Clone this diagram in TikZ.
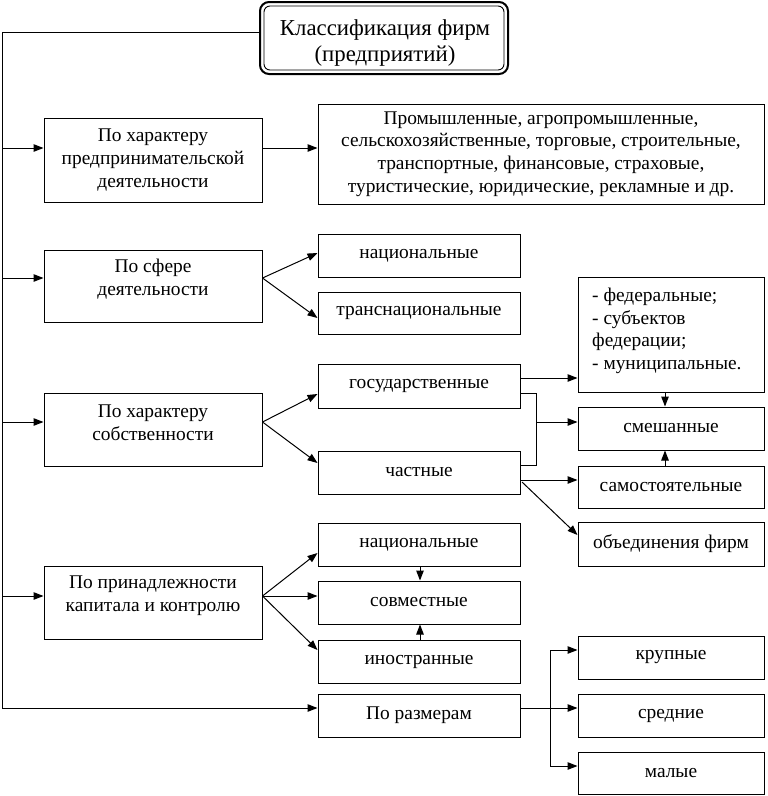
\documentclass[tikz,border=0pt]{standalone}
\usepackage{fontspec}
\setmainfont{Liberation Serif}
\usetikzlibrary{arrows.meta,calc}
\begin{document}
\begin{tikzpicture}[x=1pt,y=-1pt,
  box/.style={draw,line width=1pt,inner sep=0pt,align=center,font=\fontsize{19.4}{22.7}\selectfont},
  txt/.style={inner sep=0pt,align=center,font=\fontsize{19.4}{22.7}\selectfont},
  arr/.style={line width=1pt,-{Triangle[length=10pt,width=7.5pt]}},
  ln/.style={line width=1pt}]
\useasboundingbox (0,0) rectangle (768,796);
% title
\node[draw,line width=2pt,rounded corners=9pt,minimum width=248pt,minimum height=72pt,inner sep=0pt] (title) at (384,38) {};
\draw[line width=0.9pt,rounded corners=6pt] (264,6) rectangle (504,70);
\node[txt,font=\fontsize{22.8}{25.5}\selectfont] (titlet) at (385,43) {Классификация фирм\\(предприятий)};
% left column
\node[box,minimum width=218pt,minimum height=84pt] (a1) at (153,160) {По характеру\\предпринимательской\\деятельности};
\node[box,minimum width=218pt,minimum height=72pt] (a2) at (153,286) {};
\node[txt] (a2t) at (153,279) {По сфере\\деятельности};
\node[box,minimum width=218pt,minimum height=73pt] (a3) at (153,429.5) {};
\node[txt] (a3t) at (153,423) {По характеру\\собственности};
\node[box,minimum width=218pt,minimum height=73pt] (a4) at (153,602.5) {};
\node[txt] (a4t) at (153,596) {По принадлежности\\капитала и контролю};
% middle column
\node[box,minimum width=446pt,minimum height=100pt] (b1) at (541,154) {Промышленные, агропромышленные,\\сельскохозяйственные, торговые, строительные,\\транспортные, финансовые, страховые,\\туристические, юридические, рекламные и др.};
\node[box,minimum width=202pt,minimum height=43pt] (b2a) at (419,255.5) {национальные};
\node[box,minimum width=202pt,minimum height=42pt] (b2b) at (419,313) {транснациональные};
\node[box,minimum width=202pt,minimum height=44pt] (b3a) at (419,386) {государственные};
\node[box,minimum width=202pt,minimum height=43pt] (b3b) at (419,472.5) {частные};
\node[box,minimum width=202pt,minimum height=43pt] (b4a) at (419,544.5) {национальные};
\node[box,minimum width=202pt,minimum height=43pt] (b4b) at (419,602.5) {совместные};
\node[box,minimum width=202pt,minimum height=43pt] (b4c) at (419,661.5) {иностранные};
\node[box,minimum width=202pt,minimum height=43pt] (a5) at (419,715.5) {По размерам};
% right column
\node[box,minimum width=186pt,minimum height=115pt] (c1) at (671,334.5) {};
\node[txt,align=left,anchor=west] (c1t) at (592,331) {- федеральные;\\- субъектов\\федерации;\\- муниципальные.};
\node[box,minimum width=186pt,minimum height=43pt] (c2) at (671,428.5) {смешанные};
\node[box,minimum width=186pt,minimum height=42pt] (c3) at (671,487) {самостоятельные};
\node[box,minimum width=186pt,minimum height=44pt] (c4) at (671,544) {объединения фирм};
\node[box,minimum width=186pt,minimum height=43pt] (d1) at (671,657.5) {крупные};
\node[box,minimum width=186pt,minimum height=43pt] (d2) at (671,715.5) {средние};
\node[box,minimum width=186pt,minimum height=42pt] (d3) at (671,773) {малые};
% trunk
\coordinate (t0) at (2,32);
\coordinate (t1) at (2,148);
\coordinate (t2) at (2,278);
\coordinate (t3) at (2,422);
\coordinate (t4) at (2,596);
\coordinate (t5) at (2,708);
\draw[ln] (title.west |- t0) -- (t0) -- (t5);
\draw[arr] (t1) -- (t1 -| a1.west);
\draw[arr] (t2) -- (t2 -| a2.west);
\draw[arr] (t3) -- (t3 -| a3.west);
\draw[arr] (t4) -- (t4 -| a4.west);
\draw[arr] (t5) -- (t5 -| a5.west);
% A1 -> B1
\draw[arr] (t1 -| a1.east) -- (t1 -| b1.west);
% A2 fork
\coordinate (p2a) at (318,253);
\coordinate (p2b) at (318,318);
\draw[arr] (t2 -| a2.east) -- (p2a -| b2a.west);
\draw[arr] (t2 -| a2.east) -- (p2b -| b2b.west);
% A3 fork
\coordinate (p3a) at (318,394);
\coordinate (p3b) at (318,463);
\draw[arr] (t3 -| a3.east) -- (p3a -| b3a.west);
\draw[arr] (t3 -| a3.east) -- (p3b -| b3b.west);
% ownership links
\coordinate (g0) at (520,378);
\coordinate (g1) at (536,393);
\coordinate (g2) at (536,465);
\coordinate (g3) at (536,422);
\coordinate (g4) at (520,480);
\coordinate (g5) at (522,482);
\coordinate (g6) at (578,535);
\coordinate (vx) at (665,0);
\draw[arr] (g0 -| b3a.east) -- (g0 -| c1.west);
\draw[ln] (g1 -| b3a.east) -- (g1) -- (g2) -- (g2 -| b3b.east);
\draw[arr] (g3) -- (g3 -| c2.west);
\draw[arr] (vx |- c1.south) -- (vx |- c2.north);
\draw[arr] (vx |- c3.north) -- (vx |- c2.south);
\draw[arr] (g4 -| b3b.east) -- (g4 -| c3.west);
\draw[arr] (g5) -- (g6 -| c4.west);
% A4 fork
\coordinate (p4a) at (318,553);
\coordinate (p4c) at (318,650);
\coordinate (wx) at (420,0);
\draw[arr] (t4 -| a4.east) -- (p4a -| b4a.west);
\draw[arr] (t4 -| a4.east) -- (t4 -| b4b.west);
\draw[arr] (t4 -| a4.east) -- (p4c -| b4c.west);
\draw[arr] (wx |- b4a.south) -- (wx |- b4b.north);
\draw[arr] (wx |- b4c.north) -- (wx |- b4b.south);
% sizes
\coordinate (s1) at (550,650);
\coordinate (s3) at (550,766);
\draw[arr] (t5 -| a5.east) -- (t5 -| d2.west);
\draw[ln] (s1) -- (s3);
\draw[arr] (s1) -- (s1 -| d1.west);
\draw[arr] (s3) -- (s3 -| d3.west);
\end{tikzpicture}
\end{document}
